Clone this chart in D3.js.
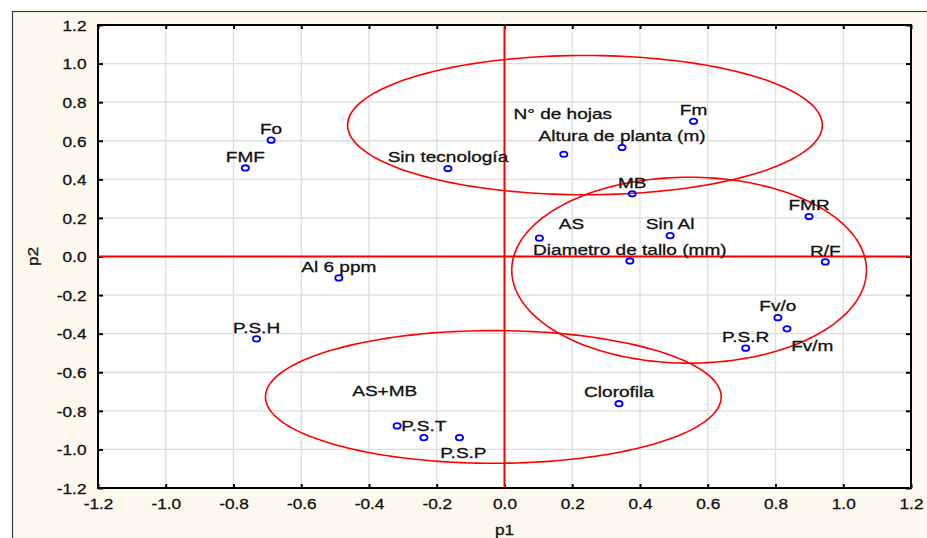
<!DOCTYPE html>
<html>
<head>
<meta charset="utf-8">
<script src="https://cdn.jsdelivr.net/npm/d3@7/dist/d3.min.js"></script>
<style>
  html, body { margin: 0; padding: 0; background: #ffffff; }
  svg { display: block; }
  text { font-family: "Liberation Sans", Arial, sans-serif; fill: #111; stroke: #111; stroke-width: 0.3px; }
</style>
</head>
<body>
<svg id="chart" width="927" height="538"></svg>
<script>
// ---------------- data ----------------
const names = ["Fo", "FMF", "Sin tecnología", "N° de hojas", "Altura de planta (m)", "Fm", "MB", "FMR",
  "AS", "Sin Al", "Diametro de tallo (mm)", "R/F", "Al 6 ppm", "P.S.H", "AS+MB", "P.S.T", "P.S.P",
  "Clorofila", "Fv/o", "Fv/m", "P.S.R"];
const p1 = [-0.689, -0.765, -0.167, 0.175, 0.347, 0.558, 0.377, 0.899,
  0.103, 0.489, 0.370, 0.947, -0.489, -0.732, -0.317, -0.238, -0.133,
  0.338, 0.807, 0.834, 0.712];
const p2 = [0.603, 0.459, 0.456, 0.530, 0.565, 0.701, 0.325, 0.207,
  0.095, 0.108, -0.023, -0.028, -0.111, -0.427, -0.878, -0.939, -0.939,
  -0.763, -0.317, -0.375, -0.475];

// grouping ellipses (centre and semi-axes, in p1/p2 units)
const ellipseCx = [0.2375, 0.545, -0.033];
const ellipseCy = [0.681, -0.071, -0.728];
const ellipseRx = [0.7006, 0.5236, 0.6726];
const ellipseRy = [0.361, 0.482, 0.344];

const xTicks = [-1.2, -1.0, -0.8, -0.6, -0.4, -0.2, 0.0, 0.2, 0.4, 0.6, 0.8, 1.0, 1.2];
const xTickLabels = ["-1.2", "-1.0", "-0.8", "-0.6", "-0.4", "-0.2", "0.0", "0.2", "0.4", "0.6", "0.8", "1.0", "1.2"];
const yTicks = [-1.2, -1.0, -0.8, -0.6, -0.4, -0.2, 0.0, 0.2, 0.4, 0.6, 0.8, 1.0, 1.2];
const yTickLabels = ["-1.2", "-1.0", "-0.8", "-0.6", "-0.4", "-0.2", "0.0", "0.2", "0.4", "0.6", "0.8", "1.0", "1.2"];
const xTitle = "p1";
const yTitle = "p2";

// ---------------- layout ----------------
const svg = d3.select("#chart");
const plotL = 98, plotR = 911, plotT = 25, plotB = 488;
const x = d3.scaleLinear().domain([-1.2, 1.2]).range([plotL, plotR]);
const y = d3.scaleLinear().domain([-1.2, 1.2]).range([plotB, plotT]);

const labelOffset = {
  "N° de hojas": [-1, -40.5],
  "AS": [32, -14.3],
  "AS+MB": [-12.4, -35.3],
  "P.S.P": [4, 14.6],
  "Fv/m": [25.3, 16.7]
};
const defaultOffset = [0, -11.5];
const tickSX = 1.15, labelSX = 1.27;

// outer frame
svg.append("rect").attr("x", 12.5).attr("y", 11.5).attr("width", 940).attr("height", 560)
  .attr("fill", "#fdf8ee").attr("stroke", "#3a3a3a").attr("stroke-width", 1.2);

// plot background
svg.append("rect").attr("x", plotL).attr("y", plotT).attr("width", plotR - plotL).attr("height", plotB - plotT)
  .attr("fill", "#ffffff");

// grid
const grid = svg.append("g");
grid.selectAll("line.gx").data(xTicks.slice(1, -1)).join("line").attr("class", "gx")
  .attr("x1", d => x(d)).attr("x2", d => x(d)).attr("y1", plotT).attr("y2", plotB)
  .attr("stroke", "#dedede").attr("stroke-width", 1.3);
grid.selectAll("line.gy").data(yTicks.slice(1, -1)).join("line").attr("class", "gy")
  .attr("y1", d => y(d)).attr("y2", d => y(d)).attr("x1", plotL).attr("x2", plotR)
  .attr("stroke", "#dedede").attr("stroke-width", 1.3);

// axes (ticks inward)
function styleAxis(g) {
  g.select(".domain").remove();
  g.selectAll(".tick line").attr("stroke", "#000").attr("stroke-width", 2);
  g.selectAll(".tick text").style("font-size", "15px").attr("fill", "#111");
}
const gxB = svg.append("g").attr("transform", `translate(0,${plotB})`)
  .call(d3.axisBottom(x).tickValues(xTicks).tickFormat((d, i) => xTickLabels[i]).tickSize(-4).tickPadding(0));
styleAxis(gxB);
gxB.selectAll(".tick text").attr("y", 0).attr("dy", null)
  .attr("transform", `translate(0,20.5) scale(${tickSX},1)`);

const gyL = svg.append("g").attr("transform", `translate(${plotL},0)`)
  .call(d3.axisLeft(y).tickValues(yTicks).tickFormat((d, i) => yTickLabels[i]).tickSize(-5).tickPadding(0));
styleAxis(gyL);
gyL.selectAll(".tick text").attr("x", 0).attr("dy", null)
  .attr("transform", `translate(-11.5,5.3) scale(${tickSX},1)`);

const gxT = svg.append("g").attr("transform", `translate(0,${plotT})`)
  .call(d3.axisTop(x).tickValues(xTicks).tickFormat("").tickSize(-4));
styleAxis(gxT);
const gyR = svg.append("g").attr("transform", `translate(${plotR},0)`)
  .call(d3.axisRight(y).tickValues(yTicks).tickFormat("").tickSize(-5));
styleAxis(gyR);

// red reference lines at zero
svg.append("line").attr("x1", x(0)).attr("x2", x(0)).attr("y1", plotT).attr("y2", plotB)
  .attr("stroke", "#ff0000").attr("stroke-width", 2);
svg.append("line").attr("y1", y(0)).attr("y2", y(0)).attr("x1", plotL).attr("x2", plotR)
  .attr("stroke", "#ff0000").attr("stroke-width", 2);

// ellipses
const ellipseLine = d3.line().x(d => x(d[0])).y(d => y(d[1])).curve(d3.curveLinearClosed);
const angles = d3.range(0, 2 * Math.PI, Math.PI / 90);
ellipseCx.forEach((cx, i) => {
  const pts = angles.map(t => [cx + ellipseRx[i] * Math.cos(t), ellipseCy[i] + ellipseRy[i] * Math.sin(t)]);
  svg.append("path").attr("d", ellipseLine(pts))
    .attr("fill", "none").attr("stroke", "#ff0000").attr("stroke-width", 1.6);
});

// plot border
svg.append("rect").attr("x", plotL).attr("y", plotT).attr("width", plotR - plotL).attr("height", plotB - plotT)
  .attr("fill", "none").attr("stroke", "#000").attr("stroke-width", 2);

// points
svg.append("g").selectAll("ellipse").data(names).join("ellipse")
  .attr("cx", (d, i) => x(p1[i])).attr("cy", (d, i) => y(p2[i]))
  .attr("rx", 3.6).attr("ry", 2.7)
  .attr("fill", "none").attr("stroke", "#0000ff").attr("stroke-width", 1.8);

// point labels
svg.append("g").selectAll("text").data(names).join("text")
  .attr("text-anchor", "middle")
  .style("font-size", "15px")
  .attr("transform", (d, i) => {
    const o = labelOffset[d] || defaultOffset;
    return `translate(${x(p1[i]) + o[0]},${y(p2[i]) + o[1] + 5.3}) scale(${labelSX},1)`;
  })
  .text(d => d);

// axis titles
svg.append("text").attr("text-anchor", "middle").style("font-size", "15px")
  .attr("transform", `translate(${x(0)},534.5) scale(${tickSX},1)`).text(xTitle);
svg.append("text").attr("text-anchor", "middle").style("font-size", "15px")
  .attr("transform", `translate(37.5,256.5) rotate(-90) scale(${tickSX},1)`).text(yTitle);
</script>
</body>
</html>
